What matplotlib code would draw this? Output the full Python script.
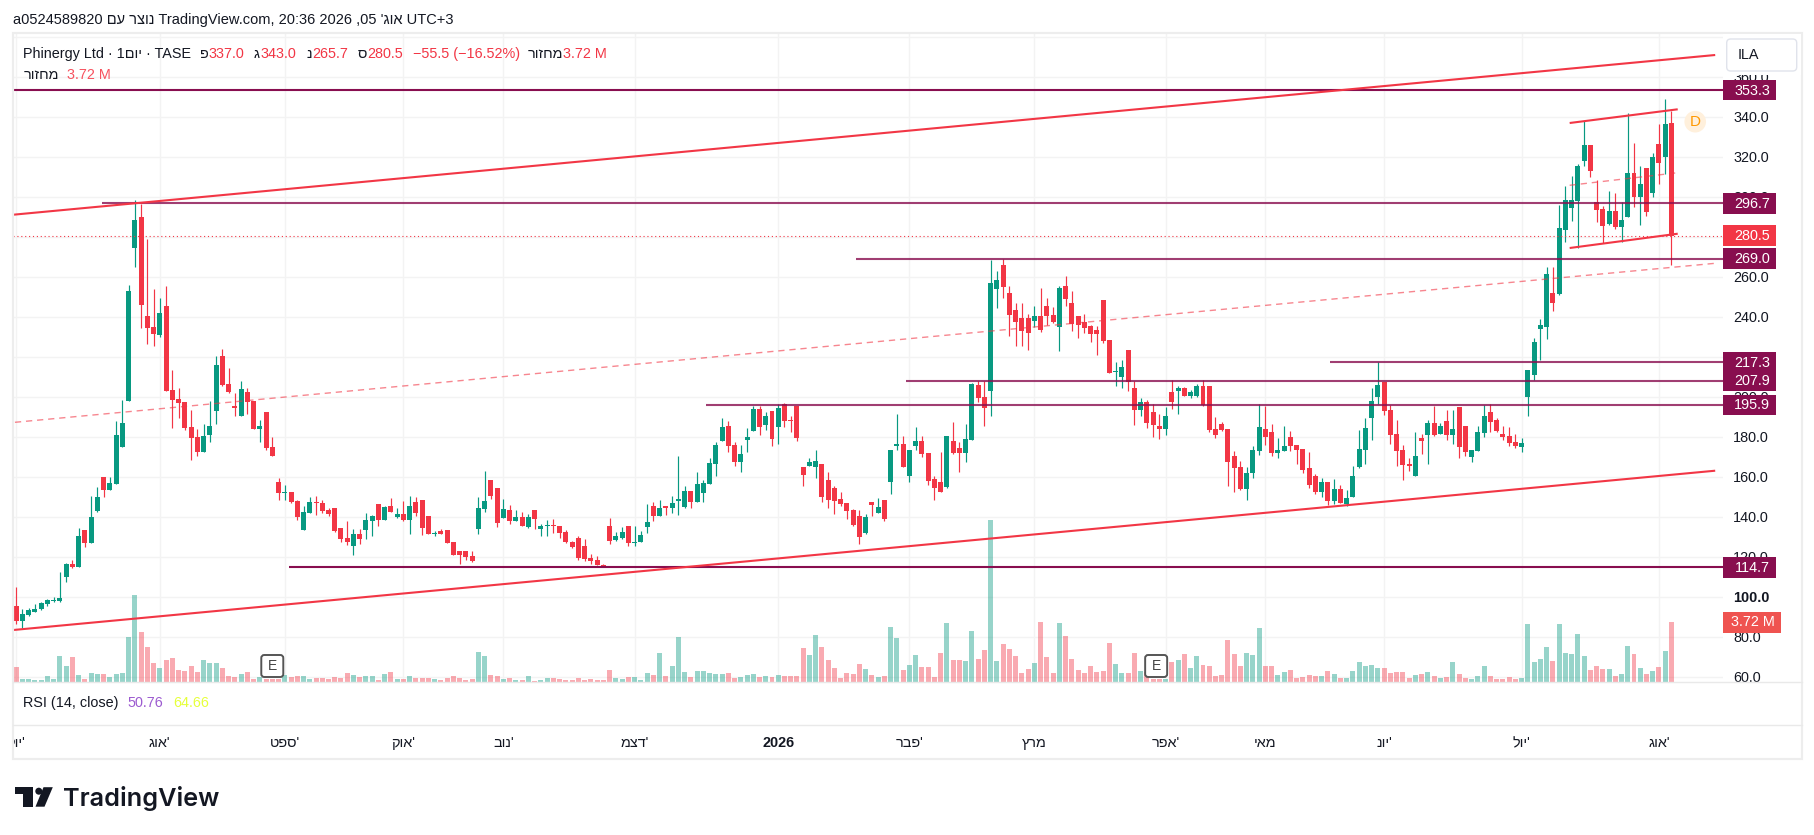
import matplotlib
matplotlib.use('Agg')
import matplotlib.pyplot as plt
from matplotlib.patches import Rectangle, FancyBboxPatch, Circle, Polygon

plt.rcParams['font.family'] = ['Liberation Sans', 'DejaVu Sans']

# values, one bar per trading day
opens = [95.2,87.7,90.7,92.5,93.7,96.2,97.8,97.7,109.7,116.2,
    114.7,133.2,126.7,142.7,159.7,153.2,156.2,174.7,197.7,274.3,
    289.8,240.2,234.7,230.7,245.2,203.2,198.7,197.2,184.7,179.7,
    172.2,180.7,192.7,220.2,206.2,195.2,190.2,202.2,197.7,183.7,
    192.2,174.7,157.2,151.7,152.2,147.7,133.2,141.7,147.2,146.7,
    143.2,144.2,134.2,129.2,125.2,131.2,133.2,137.7,146.2,138.2,
    145.2,139.7,141.2,138.2,147.2,148.2,140.2,131.2,132.7,133.2,
    127.2,122.7,122.7,120.2,133.7,143.7,158.2,154.2,139.2,143.2,
    137.7,139.7,134.7,143.2,133.7,135.2,135.7,135.2,132.2,127.2,
    129.2,125.2,119.2,118.2,115.7,135.2,128.2,129.5,135.2,127,
    127.4,134.7,145.2,140.2,145.2,144.2,147.7,144.7,152.7,147.2,
    151.7,156.2,166.2,177.7,185.2,175.7,167.2,178.2,182.7,193.7,
    185.7,192.7,184.7,196.2,188.2,195.2,164.7,165.2,164.7,166.2,
    158.2,154.2,148.7,146.7,143.2,140.2,131.7,147.2,141.7,148.2,
    157.2,175.2,176.2,160.2,175.2,177.7,171.7,158.7,157.2,154.7,
    177.7,174.2,171.7,178.2,205.7,199.7,202.7,253.7,265.7,251.7,
    243.2,239.2,239.2,237.7,240.2,245.2,240.7,234.7,255.2,246.7,
    240.2,237.2,235.2,233.2,248.2,228.2,212.2,209.7,223.2,204.2,
    193.2,197.2,192.2,185.2,183.7,202.2,202.7,204.2,200.2,200.2,
    205.2,205.2,183.7,186.2,183.7,170.2,164.7,153.7,161.7,172.7,
    183.7,182.2,171.7,172.7,179.7,175.7,173.7,164.2,160.2,152.2,
    157.2,147.7,153.7,146.2,149.7,164.7,173.2,189.2,199.7,207.2,
    193.2,181.2,173.2,166.2,160.2,179.2,180.7,186.7,181.2,187.7,
    180.7,194.7,185.2,169.7,172.7,181.7,192.2,188.2,181.2,180.2,
    177.2,174.7,199.7,210.7,233.7,235,251.8,251.3,283.3,294.3,
    297.8,317.8,325.8,297.3,293.8,286.3,292.8,284.8,289.8,311.8,
    299.8,314.3,301.8,326.3,319.8,337.0]

closes = [87.7,91.2,93.2,94,96.7,98.2,98,99.5,116.2,114.7,
    130.2,126.7,139.7,149.7,153.2,156.7,180.7,186.7,252.7,288.3,
    245.7,234.2,231.2,241.7,202.7,198.2,196.7,184.2,179.2,172.2,
    180.2,185.2,215.7,205.7,202.2,194.2,203.7,197.2,183.7,185.2,
    174.2,170.2,151.7,152.2,147.2,139.7,142.2,147.2,146.7,142.7,
    141.2,132.7,128.7,127.2,131.2,128.7,138.2,140.2,138.2,144.7,
    142.2,141.2,138.2,145.2,141.7,134.2,131.2,131.7,131.2,126.7,
    120.7,120.7,119.7,117.7,144.2,147.7,150.2,136.7,143.7,137.7,
    139.7,135.2,139.7,138.7,135.2,135.7,135.2,131.7,127.2,124.7,
    119.2,118.7,117.7,115.7,115.2,127.7,130.2,132.2,126.7,127.5,
    130.7,137.2,140.2,144.2,144.2,146.7,148.7,152.7,147.2,156.2,
    156.7,166.7,175.7,184.7,175.2,167.2,171.2,179.7,193.7,184.7,
    190.2,178.7,194.2,187.7,187.7,179.2,160.7,167.2,167.7,149.7,
    148.2,147.7,146.2,142.7,135.7,129.7,139.7,145.7,144.7,138.7,
    173.2,176.2,164.7,173.2,177.7,171.2,157.7,154.2,152.2,180.2,
    171.7,171.7,178.7,206.2,199.2,194.2,256.7,258.2,254.7,240.7,
    237.2,232.7,231.7,240.2,233.2,240.2,237.2,254.2,248.7,236.2,
    235.7,234.2,231.2,231.2,227.7,211.7,212.7,214.7,207.2,193.2,
    197.2,186.7,185.7,183.7,190.2,197.2,204.2,200.2,202.2,205.2,
    195.7,183.2,180.7,183.2,167.2,164.2,153.7,161.7,173.2,184.7,
    179.7,171.7,173.2,175.2,175.2,173.2,163.2,155.7,152.2,157.2,
    147.7,153.7,146.7,149.2,160.2,173.7,184.2,197.7,205.7,192.7,
    180.7,172.7,165.7,165.2,170.2,177.7,186.7,180.7,185.2,180.7,
    183.7,174.7,172.2,173.2,182.2,190.2,187.2,182.7,179.7,176.7,
    175.2,176.7,213.2,227.2,235.7,261.3,246.8,284.3,298.3,298.3,
    315.3,325.8,312.8,293.3,285.3,292.8,284.8,288.3,311.8,299.8,
    306.3,292.3,319.8,316.8,336.3,280.5]

highs = [104.7,94,94.5,96.5,97.4,98.7,100,112.2,117,118.2,
    134.2,133.2,150.2,154.7,159.7,159.7,187.7,198.2,255.7,298.3,
    296.6,278.8,254,249.2,255.2,213.2,204.2,197.2,193.2,183.7,
    186.2,197.7,220.2,223.7,214.2,201.7,207.7,204.2,197.7,188.2,
    192.2,179.7,159.2,155.7,152.2,148.2,145.2,149.7,150.2,148.2,
    144.2,144.2,134.2,137.7,133.7,133.7,141.7,140.7,146.2,145.2,
    149.2,144.2,147.7,150.2,149.7,148.2,140.2,132.7,133.7,133.2,
    127.2,122.7,122.7,122.7,149.7,162.7,158.2,154.2,148.7,145.7,
    143.2,142.2,141.2,143.2,136.2,138.2,138.7,135.2,133.2,127.7,
    130.2,128.7,121.2,120.2,116.2,139.2,132.2,135,135.2,135.2,
    133,146.2,147.2,148.2,145.2,150.2,170.2,155.2,152.7,162.2,
    158.2,169.2,177.2,189.2,187.7,177.2,175.7,184.2,195.2,195.2,
    192.2,192.7,196.2,196.7,190.2,195.2,164.7,169.2,173.2,166.2,
    162.2,155.2,152.2,146.7,143.7,143.2,141.2,147.2,149.2,148.2,
    173.2,191.2,180.2,173.2,184.7,180.2,171.7,160.2,172.2,180.2,
    187.2,177.2,186.2,206.7,207.7,207.7,268.2,262.7,268.7,255.2,
    246.7,246.7,241.2,245.2,254.2,249.2,244.7,255.2,260.2,252.7,
    240.2,241.2,235.7,235.2,248.2,228.2,217.2,218.2,223.2,207.7,
    199.2,198.2,196.2,191.2,194.7,208.2,205.2,204.7,203.2,206.2,
    208.2,205.2,189.7,187.2,183.7,172.7,167.7,164.7,175.2,196.2,
    195.2,186.2,179.2,185.2,182.7,175.7,173.7,172.2,161.2,159.2,
    157.2,158.7,155.7,153.2,165.2,183.2,189.2,204.2,217.4,207.2,
    195.7,188.2,175.7,169.2,182.2,181.2,188.2,195.2,186.7,193.2,
    193.2,194.7,185.2,173.2,185.2,195.7,196.2,189.2,185.2,184.7,
    181.2,179.2,213.2,229.2,238.8,264.8,264.8,295.8,305.3,310.3,
    316.3,337.8,325.8,308.3,295.3,302.8,301.8,297.3,341.8,326.8,
    315.3,314.3,321.8,336.3,348.8,343.0]

lows = [86.4,84.2,90.5,92.2,93.5,95.4,97.5,97.4,107.2,114.2,
    114.7,124.7,126.7,142.2,149.7,153.2,156.2,174.7,197.7,265,
    234.2,226.2,225.2,229.7,202.7,184.2,189.2,183.2,168.2,170.2,
    172.2,177.2,186.2,205.2,201.7,190.2,190.2,191.2,183.7,177.2,
    173.2,170.2,148.2,148.2,146.7,138.2,133.2,141.7,140.7,141.7,
    140.2,132.2,127.2,125.7,120.7,126.2,128.7,130.2,135.2,138.2,
    142.2,139.2,137.7,131.2,140.2,130.7,131.2,130.2,131.2,126.7,
    120.7,116.2,118.2,117.2,131.2,142.2,148.7,134.7,139.2,136.2,
    137.7,135.2,134.2,133.7,130.2,130.2,131.7,129.2,126.7,124.2,
    118.2,117.7,116.2,115.7,115,126.2,128,129,125.4,125.4,
    127.4,131.7,137.7,140.2,140.7,141.7,140.7,144.2,144.2,147.2,
    147.2,156.2,160.2,177.7,172.2,165.2,162.2,172.2,182.7,180.7,
    183.2,175.2,176.2,184.7,182.2,177.7,155.2,165.2,159.2,147.2,
    144.2,141.2,145.2,138.7,135.2,126.4,131.2,140.2,141.7,137.7,
    151.2,173.2,164.7,157.2,173.2,169.7,155.7,148.2,152.2,154.2,
    171.2,162.2,167.2,178.2,197.2,185.2,190.2,244.2,249.2,230.2,
    225.2,225.2,223.2,234.7,232.2,235.7,236.7,222.7,245.2,232.7,
    229.2,231.7,227.2,220.7,226.7,211.7,205.2,204.2,202.7,185.7,
    190.2,184.2,179.7,178.7,180.7,193.7,191.2,200.2,199.2,199.7,
    195.2,182.2,179.2,182.7,155.2,152.2,153.2,148.2,159.2,170.7,
    175.7,170.2,169.2,172.7,172.7,166.2,161.7,154.2,151.2,149.7,
    145.7,146.2,146.7,145.2,149.7,164.2,166.2,178.2,196.2,190.7,
    176.2,165.2,158.2,162.7,160.2,171.2,166.2,180.2,181.2,178.2,
    176.2,169.2,170.2,167.2,172.7,179.7,182.2,182.2,178.2,175.2,
    174.2,172.2,190.2,208.2,218.2,228.7,242.8,250.8,277.3,287.8,
    274.3,315.3,309.8,287.3,276.8,285.8,283.8,277.3,289.8,294.8,
    285.8,290.3,299.8,306.3,311.3,265.7]

volumes = [.93,.19,.19,.12,.12,.37,.19,1.61,.99,1.55,
    .43,.19,.56,.5,.5,.31,.5,.56,2.79,5.39,
    3.1,2.17,1.18,.87,1.36,1.49,.74,.68,.99,.62,
    1.36,1.18,1.18,.87,.37,.31,.5,.62,.19,.31,
    .19,.19,.19,.43,.31,.37,.37,.19,.25,.25,
    .19,.31,.25,.56,.43,.31,.37,.37,.12,.5,
    .62,.19,.19,.37,.25,.25,.25,.19,.12,.25,
    .37,.25,.12,.19,1.86,1.61,.43,.37,.19,.25,
    .12,.12,.37,.06,.12,.25,.25,.19,.12,.12,
    .25,.12,.19,.12,.12,.74,.25,.19,.31,.31,
    .12,.56,.43,1.8,.37,.99,2.79,.62,.31,.68,
    .68,.56,.5,.5,.56,.25,.31,.43,.5,.31,
    .37,.31,.43,.37,.37,.37,2.11,1.67,2.91,2.17,
    1.36,.87,.25,.56,.5,1.12,.81,.43,.31,.37,
    3.41,2.73,.74,1.05,1.67,.93,.93,.31,1.8,3.66,
    1.36,1.36,1.3,3.16,1.43,1.98,10.04,1.3,2.36,2.05,
    1.61,.56,.81,1.18,3.72,1.55,.56,3.66,2.85,1.43,
    .74,.56,.99,.62,.68,2.42,1.12,.56,.56,1.8,
    .68,.62,.19,.19,.19,1.24,1.36,1.74,.87,1.61,
    1.05,.99,.37,.43,2.6,1.74,.99,1.8,1.67,3.35,
    .99,.99,.43,.62,.74,.25,.31,.43,.37,.37,
    .68,.5,.25,.25,.68,1.24,.99,1.05,.87,.87,
    .56,.62,.62,.25,.43,.5,.62,.37,.25,.31,
    1.24,.5,.25,.19,.37,.99,.37,.19,.19,.31,
    .19,.25,3.6,1.24,1.43,2.17,1.3,3.6,1.8,1.74,
    2.98,1.61,.74,.99,.81,.81,.37,.5,2.23,1.74,
    .87,.5,.68,.93,1.92,3.72]

month_bars = [0, 23, 43, 62, 78, 99, 122, 143, 163, 184, 200, 219, 241, 263]
# Hebrew is stored in drawing order, matplotlib does not reorder it
month_labels = ["לוי'", "גוא'", "טפס'", "קוא'", "בונ'", "מצד'", '2026', "רבפ'", 'ץרמ', "רפא'", 'יאמ', "נוי'", "לוי'", "גוא'"]
price_ticks = [60, 80, 100, 120, 140, 160, 180, 200, 220, 240, 260, 280, 300, 320, 340, 360, 380]
price_tick_labels = ['60.0', '80.0', '100.0', '120.0', '140.0', '160.0', '180.0', '200.0', '220.0', '240.0', '260.0', '', '300.0', '320.0', '340.0', '360.0', '']

level_prices = [353.3, 296.7, 269.0, 217.3, 207.9, 195.9, 114.7]
level_starts = [-0.5, 13.8, 134.4, 210.3, 142.5, 110.5, 43.7]
level_labels = ['353.3', '296.7', '269.0', '217.3', '207.9', '195.9', '114.7']
last_price = 280.5

# drawn trend lines: start bar, end bar, start price, end price
upper_line = [-0.45, 272.0, 291.0, 370.85]
lower_line = [-0.45, 272.0, 83.35, 163.0]
middle_line = [-0.2, 272.0, 187.2, 266.7]
flag_top = [248.7, 266.0, 336.85, 343.7]
flag_bottom = [248.7, 266.0, 274.35, 281.5]
flag_middle = [248.7, 266.0, 305.7, 312.0]

GREEN = '#089981'
RED = '#F23645'
PLUM = '#880E4F'
INK = '#131722'
GRID = '#F3F3F3'
EDGE = '#EDEDED'

W, H = 1815, 835
fig = plt.figure(figsize=(W / 100, H / 100), dpi=100, facecolor='white')
pane_right = 1722.7
pane = [13 / W, 1 - 682 / H, (pane_right - 13) / W, (682 - 33) / H]
x_range = (-0.51, 273.2)
y_range = (57.35, 381.85)

# grid and price scale sit on the lowest axes
ax_grid = fig.add_axes(pane, zorder=1)
ax_grid.set_xlim(x_range)
ax_grid.set_ylim(y_range)
ax_grid.set_xticks(month_bars)
ax_grid.set_yticks(price_ticks)
ax_grid.set_yticklabels(price_tick_labels, fontsize=10.4, color=INK)
ax_grid.yaxis.tick_right()
ax_grid.tick_params(axis='y', length=0, pad=7.6)
ax_grid.tick_params(axis='x', length=0, labelbottom=False)
ax_grid.grid(True, color=GRID, linewidth=1)
for lab in ax_grid.get_yticklabels():
    if lab.get_text() == '100.0':
        lab.set_fontweight('bold')
for s in ax_grid.spines.values():
    s.set_visible(False)

bars = range(len(closes))
up = [c >= o for o, c in zip(opens, closes)]
colors = [GREEN if u else RED for u in up]

ax_vol = fig.add_axes(pane, zorder=2)
ax_vol.patch.set_visible(False)
ax_vol.set_xlim(x_range)
ax_vol.set_ylim(0, 40.24)
ax_vol.bar(bars, volumes, width=0.8, linewidth=0, color=colors, alpha=0.42)
ax_vol.axis('off')

ax = fig.add_axes(pane, zorder=3)
ax.patch.set_visible(False)
ax.set_xlim(x_range)
ax.set_ylim(y_range)
ax.axis('off')
ax.vlines(bars, lows, highs, colors=colors, linewidth=0.85)
ax.bar(bars, [max(abs(c - o), 0.5) for o, c in zip(opens, closes)], bottom=[min(o, c) for o, c in zip(opens, closes)],
       width=0.8, color=colors, linewidth=0, antialiased=False)

ax.hlines(last_price, x_range[0], x_range[1], colors=RED, linewidth=0.8, linestyles=(0, (1, 2.5)))
for price, start in zip(level_prices, level_starts):
    strong = price in (353.3, 114.7)
    ax.hlines(price, start, x_range[1], colors=PLUM, linewidth=1.5, alpha=1 if strong else 0.8)
for line in (upper_line, lower_line, flag_top, flag_bottom):
    ax.plot(line[:2], line[2:], color=RED, linewidth=1.5, solid_capstyle='butt')
for line in (middle_line, flag_middle):
    ax.plot(line[:2], line[2:], color=RED, linewidth=1.0, alpha=0.6, linestyle=(0, (4.5, 3.5)))

# month names, cut off at the pane edge like the first one in the picture
ax_time = fig.add_axes([13 / W, 1 - 759 / H, (pane_right - 13) / W, (759 - 725) / H], zorder=3)
ax_time.set_xlim(x_range)
ax_time.set_ylim(0, 1)
ax_time.axis('off')
for b, lab in zip(month_bars, month_labels):
    ax_time.text(b, 0.46, lab, ha='center', va='center', fontsize=10.4, color=INK, clip_on=True,
                 fontweight='bold' if lab == '2026' else 'normal')


def x_of(bar):
    return ax.transData.transform((bar, 0))[0]


def y_of(price):
    return H - ax.transData.transform((0, price))[1]


# page furniture in plain pixel positions
px = fig.add_axes([0, 0, 1, 1], zorder=5)
px.patch.set_visible(False)
px.set_xlim(0, W)
px.set_ylim(H, 0)
px.axis('off')

px.add_patch(Rectangle((13, 33), 1789, 726, fill=False, edgecolor=EDGE, linewidth=1.6))
px.plot([13, 1802], [682, 682], color='#E9E9E9', linewidth=1)
px.plot([13, 1802], [725, 725], color='#E9E9E9', linewidth=1)

px.text(13, 20, "a0524589820 םע רצונ TradingView.com, 20:36 2026 ,05 'גוא UTC+3", fontsize=10.5, color=INK, va='center')
px.text(23.3, 54, 'Phinergy Ltd · 1םוי · TASE', fontsize=10.4, color=INK, va='center')
for x, t, c in [(200.5, 'פ', INK), (208.8, '337.0', RED), (253.9, 'ג', INK), (261, '343.0', RED),
                (306.4, 'נ', INK), (312.4, '265.7', RED), (357.8, 'ס', INK), (367, '280.5', RED),
                (412.8, '−55.5 (−16.52%)', RED), (528, 'רוזחמ', INK), (563, '3.72 M', RED)]:
    px.text(x, 54, t, fontsize=10.4, color=c, va='center')
px.text(23.3, 75.3, 'רוזחמ', fontsize=10.4, color=INK, va='center')
px.text(67.2, 75.3, '3.72 M', fontsize=10.4, color='#F7525F', va='center')
px.text(23.3, 702.7, 'RSI (14, close)', fontsize=10.4, color=INK, va='center')
px.text(127.7, 702.7, '50.76', fontsize=10.4, color='#9C5BD0', va='center')
px.text(173, 702.7, '64.66', fontsize=10.4, color='#E6FF3A', va='center')

# the currency button hides the top of the scale
px.add_patch(Rectangle((pane_right + 0.5, 34), 78, 41, facecolor='white', edgecolor='none'))
px.add_patch(FancyBboxPatch((1729.7, 42), 64, 26, boxstyle='round,pad=3,rounding_size=4', facecolor='white', edgecolor='#E0E3EB', linewidth=1))
px.text(1738, 55, 'ILA', fontsize=10.4, color=INK, va='center')

# price tags on the scale
for price, lab in zip(level_prices, level_labels):
    y = y_of(price)
    px.add_patch(Rectangle((pane_right, y - 10.3), 53.8, 20.6, facecolor=PLUM, edgecolor='none'))
    px.text(1752, y + 0.5, lab, color='white', fontsize=10.4, ha='center', va='center')
y = y_of(last_price)
px.add_patch(Rectangle((pane_right, y - 10.3), 53.8, 20.6, facecolor=RED, edgecolor='none'))
px.text(1752, y + 0.5, '280.5', color='white', fontsize=10.4, ha='center', va='center')
px.add_patch(Rectangle((pane_right, 612), 58.3, 20.7, facecolor='#EF5350', edgecolor='none'))
px.text(1752.5, 622.5, '3.72 M', color='white', fontsize=10.4, ha='center', va='center')

# earnings and dividend badges
for b in (41, 182.5):
    xc = x_of(b)
    px.add_patch(FancyBboxPatch((xc - 9.5, 656.5), 19, 19, boxstyle='round,pad=1.5,rounding_size=3', facecolor='white', edgecolor='#555555', linewidth=1.4))
    px.text(xc, 666.5, 'E', fontsize=10, color='#444444', ha='center', va='center')
xc = x_of(268.8)
px.add_patch(Circle((xc, 121.7), 10.8, facecolor='#FFF0DC', edgecolor='none'))
px.text(xc, 122, 'D', fontsize=11, color='#FF9800', ha='center', va='center')

# TradingView logo
px.add_patch(Polygon([(15.3, 787.2), (33, 787.2), (33, 806.7), (23.5, 806.7), (23.5, 794.3), (15.3, 794.3)], facecolor=INK, edgecolor='none'))
px.add_patch(Circle((38.8, 791.2), 3.5, facecolor=INK, edgecolor='none'))
px.add_patch(Polygon([(43.5, 787.2), (52.8, 787.2), (44.5, 806.7), (35.5, 806.7)], facecolor=INK, edgecolor='none'))
px.text(63, 806, 'TradingView', fontsize=18.2, color=INK, family='Inter', fontweight='semibold', va='baseline')

fig.savefig('out.png', dpi=100)
